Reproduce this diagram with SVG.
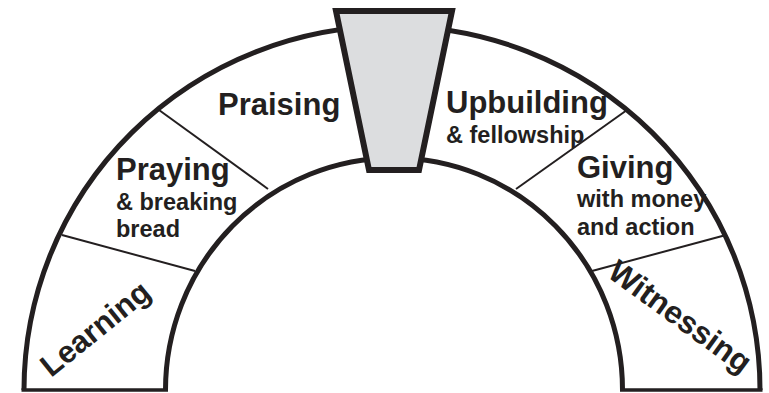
<svg xmlns="http://www.w3.org/2000/svg" width="769" height="393" viewBox="0 0 769 393">
  <style>
    .arc { fill: none; stroke: #231f20; stroke-width: 5; }
    .base { fill: none; stroke: #231f20; stroke-width: 3.5; }
    .div { fill: none; stroke: #231f20; stroke-width: 2; }
    .big { font-family: "Liberation Sans", Arial, sans-serif; font-weight: bold; font-size: 31px; fill: #231f20; }
    .small { font-family: "Liberation Sans", Arial, sans-serif; font-weight: bold; font-size: 23.5px; fill: #231f20; }
  </style>
  <rect width="769" height="393" fill="#ffffff"/>
  <g id="connectors">
    <path class="arc" d="M 24 390 A 368 364 0 0 1 760 390"/>
    <path class="arc" d="M 165.5 390 A 228.5 232 0 0 1 622.5 390"/>
    <path class="base" d="M 21.5 390 H 168 M 620 390 H 762.5"/>
    <line class="div" x1="62" y1="235" x2="195" y2="271"/>
    <line class="div" x1="159" y1="110" x2="268" y2="189"/>
    <line class="div" x1="627" y1="110" x2="516" y2="189"/>
    <line class="div" x1="726" y1="235" x2="592" y2="271"/>
  </g>
  <g id="keystone">
    <polygon points="336,11 452,11 419,170 369,170" fill="#dcdddf" stroke="#231f20" stroke-width="6" stroke-linejoin="miter"/>
  </g>
  <g id="learning">
    <text class="big" transform="translate(51,378) rotate(-39)">Learning</text>
  </g>
  <g id="praying">
    <text class="big" x="116" y="180">Praying</text>
    <text class="small" x="116" y="210">&amp; breaking</text>
    <text class="small" x="116" y="237">bread</text>
  </g>
  <g id="praising">
    <text class="big" x="218" y="115">Praising</text>
  </g>
  <g id="upbuilding">
    <text class="big" x="446" y="113">Upbuilding</text>
    <text class="small" x="446" y="143">&amp; fellowship</text>
  </g>
  <g id="giving">
    <text class="big" x="577" y="178">Giving</text>
    <text class="small" x="577" y="207">with money</text>
    <text class="small" x="577" y="235">and action</text>
  </g>
  <g id="witnessing">
    <text class="big" transform="translate(606,276) rotate(36)" style="font-size:31.5px">Witnessing</text>
  </g>
</svg>
